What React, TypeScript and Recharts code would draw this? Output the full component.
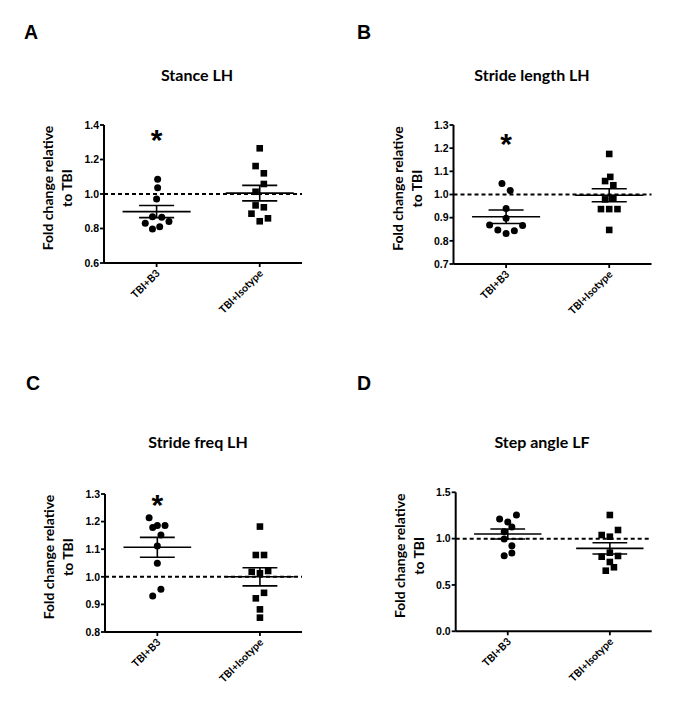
import React from 'react';
import { ScatterChart, Scatter, XAxis, YAxis, ReferenceLine } from 'recharts';

const groups = ['TBI+B3', 'TBI+Isotype'];

// A - Stance LH
const stanceB3 = [1.085, 1.036, 0.971, 0.868, 0.865, 0.83, 0.84, 0.81, 0.797];
const stanceB3Jit = [0.01, 0.01, 0, -0.04, 0.05, -0.11, 0.12, 0.03, -0.04];
const stanceIso = [1.265, 1.162, 1.12, 1.058, 1.013, 0.934, 0.923, 0.886, 0.859, 0.842];
const stanceIsoJit = [0, -0.04, 0.04, 0.04, -0.04, -0.04, 0.04, -0.08, 0.08, 0];
const stanceMean = [0.898, 1.005];
const stanceSem = [0.035, 0.045];
const stanceTicks = [0.6, 0.8, 1.0, 1.2, 1.4];

// B - Stride length LH
const strideLenB3 = [1.048, 1.017, 0.94, 0.897, 0.868, 0.847, 0.832, 0.844, 0.866];
const strideLenB3Jit = [-0.04, 0.04, 0, 0, -0.16, -0.08, 0, 0.08, 0.16];
const strideLenIso = [1.175, 1.076, 1.058, 1.04, 0.979, 0.985, 0.937, 0.937, 0.937, 0.847];
const strideLenIsoJit = [0, 0.01, -0.04, 0.04, -0.04, 0.04, -0.08, 0, 0.08, 0];
const strideLenMean = [0.904, 0.997];
const strideLenSem = [0.029, 0.028];
const strideLenTicks = [0.7, 0.8, 0.9, 1.0, 1.1, 1.2, 1.3];

// C - Stride freq LH
const strideFreqB3 = [1.214, 1.179, 1.186, 1.186, 1.151, 1.112, 1.049, 0.955, 0.93];
const strideFreqB3Jit = [-0.08, -0.045, 0, 0.075, 0.035, 0, 0, 0.035, -0.045];
const strideFreqIso = [1.182, 1.079, 1.079, 1.018, 1.013, 1.021, 0.942, 0.922, 0.882, 0.852];
const strideFreqIsoJit = [0, -0.04, 0.04, -0.08, 0, 0.08, 0.04, -0.04, 0, 0];
const strideFreqMean = [1.107, 1.0];
const strideFreqSem = [0.036, 0.033];
const strideFreqTicks = [0.8, 0.9, 1.0, 1.1, 1.2, 1.3];

// D - Step angle LF
const stepAngleB3 = [1.212, 1.18, 1.255, 1.126, 1.075, 0.996, 0.924, 0.845, 0.816];
const stepAngleB3Jit = [-0.08, 0, 0.085, 0.04, -0.035, -0.035, 0.04, 0.04, -0.035];
const stepAngleIso = [1.255, 1.093, 1.039, 1.021, 0.848, 0.805, 0.813, 0.748, 0.691, 0.654];
const stepAngleIsoJit = [0, 0.08, -0.08, 0, 0, -0.08, 0.08, 0, 0.04, -0.04];
const stepAngleMean = [1.05, 0.895];
const stepAngleSem = [0.054, 0.061];
const stepAngleTicks = [0, 0.5, 1.0, 1.5];

// significance asterisk above TBI+B3 (y value), null = none
const starY = [1.352, 1.247, 1.284, null];

const W = 340;
const H = 360;
const LABEL_FONT = 'Lato, "Open Sans", sans-serif';
const NUM_FONT = '"Liberation Sans", Arial, sans-serif';

const CatTick = (props: any) => {
  const { x, y, payload } = props;
  const ax = x + 4;
  const ay = y + 5;
  return (
    <text
      x={ax}
      y={ay}
      transform={`rotate(-45 ${ax} ${ay})`}
      textAnchor="end"
      fontSize={10.5}
      fontWeight="bold"
      fontFamily={LABEL_FONT}
      fill="#000"
    >
      {groups[payload.value]}
    </text>
  );
};

const Circle = (props: any) => <circle cx={props.cx} cy={props.cy} r={3.5} fill="#000" />;
const Square = (props: any) => (
  <rect x={props.cx - 3.3} y={props.cy - 3.3} width={6.6} height={6.6} fill="#000" />
);
const Star = (props: any) => (
  <text
    x={props.cx}
    y={props.cy + 17}
    textAnchor="middle"
    fontSize={30}
    fontWeight="bold"
    fontFamily={NUM_FONT}
    fill="#000"
  >
    *
  </text>
);

function Panel(props: any) {
  const { left, top, plot, letter, letterX, letterY, title, titleX, titleY, b3, b3Jit, iso, isoJit, mean, sem, ticks, star } = props;
  const margin = {
    top: plot.y,
    left: plot.x - 40,
    right: W - plot.x - plot.w,
    bottom: H - plot.y - plot.h - 60,
  };
  const b3Pts = b3.map((v: number, i: number) => ({ x: 0 + b3Jit[i], y: v }));
  const isoPts = iso.map((v: number, i: number) => ({ x: 1 + isoJit[i], y: v }));
  const line = { stroke: '#000', strokeWidth: 1.6 };
  const stats = [0, 1].flatMap((g) => [
    <ReferenceLine key={`m${g}`} segment={[{ x: g - 0.33, y: mean[g] }, { x: g + 0.33, y: mean[g] }]} {...line} />,
    <ReferenceLine key={`u${g}`} segment={[{ x: g - 0.17, y: mean[g] + sem[g] }, { x: g + 0.17, y: mean[g] + sem[g] }]} {...line} />,
    <ReferenceLine key={`l${g}`} segment={[{ x: g - 0.17, y: mean[g] - sem[g] }, { x: g + 0.17, y: mean[g] - sem[g] }]} {...line} />,
    <ReferenceLine key={`v${g}`} segment={[{ x: g, y: mean[g] - sem[g] }, { x: g, y: mean[g] + sem[g] }]} {...line} />,
  ]);
  const yc = plot.y + plot.h / 2 - 6;
  return (
    <div style={{ position: 'absolute', left, top, width: W, height: H }}>
      <ScatterChart width={W} height={H} margin={margin}>
        <XAxis
          type="number"
          dataKey="x"
          domain={[-0.51, 1.41]}
          ticks={[0, 1]}
          height={60}
          tickSize={4}
          tickMargin={2}
          tick={<CatTick />}
          axisLine={{ stroke: '#000', strokeWidth: 2 }}
          tickLine={{ stroke: '#000', strokeWidth: 1.8 }}
          allowDataOverflow
        />
        <YAxis
          type="number"
          dataKey="y"
          domain={[ticks[0], ticks[ticks.length - 1]]}
          ticks={ticks}
          width={40}
          tickSize={4}
          tickMargin={1}
          tickFormatter={(v: number) => v.toFixed(1)}
          tick={{ fill: '#000', fontSize: 10.5, fontWeight: 'bold', fontFamily: NUM_FONT }}
          axisLine={{ stroke: '#000', strokeWidth: 2 }}
          tickLine={{ stroke: '#000', strokeWidth: 1.8 }}
          allowDataOverflow
        />
        <ReferenceLine y={1} stroke="#000" strokeWidth={2} strokeDasharray="4 3" />
        {stats}
        <Scatter data={b3Pts} shape={Circle} isAnimationActive={false} />
        <Scatter data={isoPts} shape={Square} isAnimationActive={false} />
        {star != null && <Scatter data={[{ x: 0, y: star }]} shape={Star} isAnimationActive={false} />}
      </ScatterChart>
      <svg width={W} height={H} style={{ position: 'absolute', left: 0, top: 0, pointerEvents: 'none' }}>
        <text x={letterX} y={letterY} fontSize={19.5} fontWeight="bold" fontFamily={NUM_FONT} fill="#000">
          {letter}
        </text>
        <text x={titleX} y={titleY} textAnchor="middle" fontSize={16} fontWeight="bold" fontFamily={LABEL_FONT} fill="#000">
          {title}
        </text>
        <text
          transform={`translate(0 ${yc}) rotate(-90)`}
          textAnchor="middle"
          fontSize={14}
          fontWeight="bold"
          fontFamily={LABEL_FONT}
          fill="#000"
        >
          <tspan x={0} y={plot.x - 51}>Fold change relative</tspan>
          <tspan x={0} y={plot.x - 32}>to TBI</tspan>
        </text>
      </svg>
    </div>
  );
}

export default function App() {
  return (
    <div style={{ position: 'absolute', left: 0, top: 0, width: 685, height: 719, background: '#fff' }}>
      <Panel
        left={0}
        top={0}
        plot={{ x: 104, y: 125, w: 198, h: 138 }}
        letter="A"
        letterX={24}
        letterY={39}
        title="Stance LH"
        titleX={197}
        titleY={81}
        b3={stanceB3}
        b3Jit={stanceB3Jit}
        iso={stanceIso}
        isoJit={stanceIsoJit}
        mean={stanceMean}
        sem={stanceSem}
        ticks={stanceTicks}
        star={starY[0]}
      />
      <Panel
        left={340}
        top={0}
        plot={{ x: 113.5, y: 125, w: 198, h: 139 }}
        letter="B"
        letterX={17}
        letterY={39}
        title="Stride length LH"
        titleX={192}
        titleY={81}
        b3={strideLenB3}
        b3Jit={strideLenB3Jit}
        iso={strideLenIso}
        isoJit={strideLenIsoJit}
        mean={strideLenMean}
        sem={strideLenSem}
        ticks={strideLenTicks}
        star={starY[1]}
      />
      <Panel
        left={0}
        top={360}
        plot={{ x: 105, y: 134, w: 197, h: 138 }}
        letter="C"
        letterX={26}
        letterY={30}
        title="Stride freq LH"
        titleX={198}
        titleY={88}
        b3={strideFreqB3}
        b3Jit={strideFreqB3Jit}
        iso={strideFreqIso}
        isoJit={strideFreqIsoJit}
        mean={strideFreqMean}
        sem={strideFreqSem}
        ticks={strideFreqTicks}
        star={starY[2]}
      />
      <Panel
        left={340}
        top={360}
        plot={{ x: 115.7, y: 132.3, w: 196, h: 139 }}
        letter="D"
        letterX={17}
        letterY={30}
        title="Step angle LF"
        titleX={202}
        titleY={88}
        b3={stepAngleB3}
        b3Jit={stepAngleB3Jit}
        iso={stepAngleIso}
        isoJit={stepAngleIsoJit}
        mean={stepAngleMean}
        sem={stepAngleSem}
        ticks={stepAngleTicks}
        star={starY[3]}
      />
    </div>
  );
}
